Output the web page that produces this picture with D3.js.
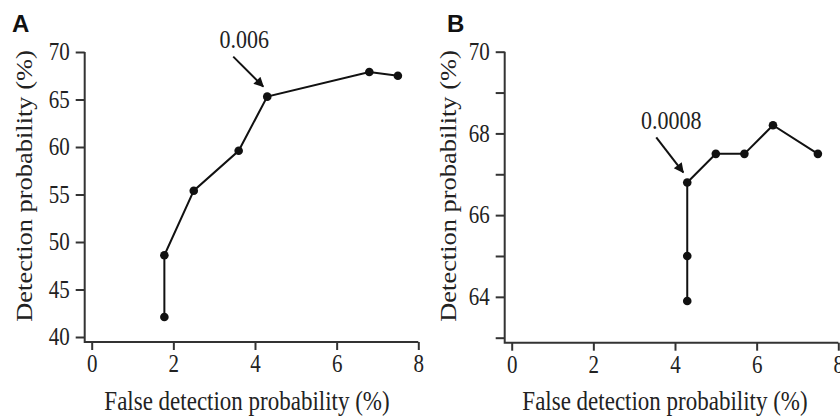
<!DOCTYPE html>
<html lang="en">
<head>
<meta charset="utf-8">
<script src="https://d3js.org/d3.v7.min.js"></script>
<title>Detection vs false detection</title>
<style>
    body { margin: 0; background: #fff; }
    text { font-family: "Liberation Serif", "Times New Roman", serif; fill: #222; }
    .panel-tag { font-family: "Liberation Sans", Arial, sans-serif; font-weight: bold; fill: #111; }
</style>
</head>
<body>
<div id="container"></div>
<script>
    // panel A
    var fdpA = [1.78, 1.78, 2.5, 3.6, 4.3, 6.8, 7.5];
    var dpA = [42.1, 48.6, 55.4, 59.6, 65.3, 67.9, 67.5];
    var yTicksA = [40, 45, 50, 55, 60, 65, 70];
    // panel B
    var fdpB = [4.3, 4.3, 4.3, 5.0, 5.7, 6.4, 7.5];
    var dpB = [63.9, 65.0, 66.8, 67.5, 67.5, 68.2, 67.5];
    var yTicksB = [63, 64, 65, 66, 67, 68, 69, 70];
    var xTicks = [0, 2, 4, 6, 8];
    // arrow annotations: index of point + label
    var noteA = {i: 4, label: "0.006"};
    var noteB = {i: 2, label: "0.0008"};

    var SY = 1.15; // the source figure is a bit taller than wide

    var svg = d3.select("#container")
        .append("svg")
        .attr("width", 840)
        .attr("height", 417);

    svg.append("defs").append("marker")
        .attr("id", "arrow")
        .attr("viewBox", "0 0 10 10")
        .attr("refX", 9).attr("refY", 5)
        .attr("markerWidth", 6).attr("markerHeight", 5)
        .attr("markerUnits", "strokeWidth")
        .attr("orient", "auto")
        .append("path")
        .attr("d", "M0,0L10,5L0,10z")
        .attr("fill", "#111");

    // move x/y into a transform so the glyphs can be stretched vertically
    function stretch(sel) {
        sel.each(function() {
            var t = d3.select(this);
            var x = +t.attr("x") || 0, y = +t.attr("y") || 0;
            t.attr("x", null).attr("y", null)
                .attr("transform", "translate(" + x + "," + y + ") scale(1," + SY + ")");
        });
    }

    function panel(cfg) {
        var x = d3.scaleLinear().domain([0, 8]).range(cfg.xr);
        var y = d3.scaleLinear().domain(cfg.yd).range(cfg.yr);
        var g = svg.append("g");
        var axX = cfg.xr[0] - 7, axY = cfg.yr[0] + 5;

        var ya = g.append("g")
            .attr("transform", "translate(" + axX + ",0)")
            .call(d3.axisLeft(y).tickValues(cfg.yTicks).tickSize(9).tickPadding(6)
                .tickFormat(function(d) { return cfg.labelled(d) ? d : ""; }));
        ya.select(".domain").remove();
        var xa = g.append("g")
            .attr("transform", "translate(0," + axY + ")")
            .call(d3.axisBottom(x).tickValues(xTicks).tickSize(8).tickPadding(5));
        xa.select(".domain").remove();
        g.selectAll(".tick line").attr("stroke", "#333").attr("stroke-width", 2);
        g.selectAll(".tick text").style("font-size", "21px").attr("fill", "#222")
            .style("font-family", "'Liberation Serif', serif")
            .call(stretch);

        g.append("path")
            .attr("d", "M" + axX + "," + y(cfg.yd[1]) + "V" + axY + "H" + x(8))
            .attr("fill", "none").attr("stroke", "#333").attr("stroke-width", 2);

        var pts = cfg.fx.map(function(v, i) { return [v, cfg.fy[i]]; });
        g.append("path")
            .datum(pts)
            .attr("d", d3.line().x(function(d) { return x(d[0]); }).y(function(d) { return y(d[1]); }))
            .attr("fill", "none").attr("stroke", "#111").attr("stroke-width", 2);
        g.selectAll("circle").data(pts).enter().append("circle")
            .attr("cx", function(d) { return x(d[0]); })
            .attr("cy", function(d) { return y(d[1]); })
            .attr("r", 4.3).attr("fill", "#111");

        var px = x(pts[cfg.note.i][0]), py = y(pts[cfg.note.i][1]);
        g.append("line")
            .attr("x1", px + cfg.arrow[0]).attr("y1", py + cfg.arrow[1])
            .attr("x2", px - 4).attr("y2", py - 10)
            .attr("stroke", "#111").attr("stroke-width", 2)
            .attr("marker-end", "url(#arrow)");
        g.append("text")
            .attr("x", px + cfg.text[0]).attr("y", py + cfg.text[1])
            .attr("text-anchor", "middle").style("font-size", "22px")
            .text(cfg.note.label)
            .call(stretch);

        g.append("text").attr("class", "panel-tag")
            .attr("x", cfg.tag[0]).attr("y", cfg.tag[1])
            .style("font-size", "24px").text(cfg.tagText);

        g.append("text")
            .attr("x", cfg.xlab).attr("y", 410)
            .attr("text-anchor", "middle").style("font-size", "23px")
            .text("False detection probability (%)")
            .call(stretch);
        g.append("text")
            .attr("transform", "translate(" + cfg.ylab + ",186) scale(1," + SY + ") rotate(-90)")
            .attr("text-anchor", "middle").style("font-size", "23px")
            .text("Detection probability (%)");
    }

    panel({xr: [91.7, 418.3], yd: [40, 70], yr: [337, 52], yTicks: yTicksA,
        labelled: function() { return true; },
        fx: fdpA, fy: dpA, note: noteA, arrow: [-34, -40], text: [-23, -49],
        tag: [12, 32], tagText: "A", ylab: 32, xlab: 247});
    panel({xr: [511.7, 838.3], yd: [63, 70], yr: [337.7, 51.7], yTicks: yTicksB,
        labelled: function(d) { return d % 2 === 0; },
        fx: fdpB, fy: dpB, note: noteB, arrow: [-31, -45], text: [-16, -53],
        tag: [447, 32], tagText: "B", ylab: 456, xlab: 665});
</script>
</body>
</html>
